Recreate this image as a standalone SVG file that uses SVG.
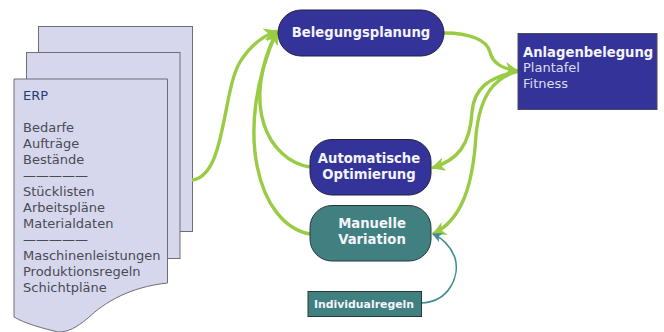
<svg xmlns="http://www.w3.org/2000/svg" width="664" height="332" viewBox="0 0 664 332">
<defs>
<style>
text{font-family:"DejaVu Sans",Verdana,sans-serif}
.page{fill:#d6d7ec;stroke:#6e6e78;stroke-width:1}
.doc{font-size:13px;fill:#4a4a55}
.dark{fill:#333399;stroke:#22223a;stroke-width:1}
.teal{fill:#408080;stroke:#28383a;stroke-width:1}
.lbl{font-size:13.200px;font-weight:bold;fill:#f4f4fa;text-anchor:middle}
.g{fill:none;stroke:#99cc44;stroke-width:3.400}
.b{fill:none;stroke:#408c90;stroke-width:1.600}
</style>
<marker id="ah" viewBox="0 0 14 14" refX="13" refY="7" markerWidth="14" markerHeight="14" markerUnits="userSpaceOnUse" orient="auto"><path d="M0 0L14 7L0 14L4 7Z" fill="#99cc44"/></marker>
<marker id="ahb" viewBox="0 0 10 10" refX="9" refY="5" markerWidth="10" markerHeight="10" markerUnits="userSpaceOnUse" orient="auto"><path d="M0 0L10 5L0 10L3 5Z" fill="#408c90"/></marker>
</defs>
<rect width="664" height="332" fill="#fff"/>
<g id="erp-pages">
<rect class="page" x="38.500" y="26.500" width="154" height="205"/>
<rect class="page" x="26.500" y="52.500" width="153.500" height="206"/>
<path class="page" d="M14 79H167.500V283C130 287 105 302 88 318C76 328 68 332 58 332C42 328 26 324 14 317Z"/>
<text class="doc" x="23" y="100" style="fill:#1f3f78">ERP</text>
<text class="doc" x="23" y="132">Bedarfe</text>
<text class="doc" x="23" y="148">Aufträge</text>
<text class="doc" x="23" y="164">Bestände</text>
<text class="doc" x="23" y="180">—————</text>
<text class="doc" x="23" y="196">Stücklisten</text>
<text class="doc" x="23" y="212">Arbeitspläne</text>
<text class="doc" x="23" y="228">Materialdaten</text>
<text class="doc" x="23" y="244">—————</text>
<text class="doc" x="23" y="260">Maschinenleistungen</text>
<text class="doc" x="23" y="276">Produktionsregeln</text>
<text class="doc" x="23" y="292">Schichtpläne</text>
</g>
<g id="connectors">
<path class="g" marker-end="url(#ah)" d="M192 180C226 176 222 92 240 62C250 46 262 36 277 31"/>
<path class="g" marker-end="url(#ah)" d="M310 167C268 160 240 105 277 31"/>
<path class="g" marker-end="url(#ah)" d="M310 234C258 225 232 130 277 31"/>
<path class="g" marker-end="url(#ah)" d="M444 33C470 33 487 40 490 52C493 65 505 69 518 71"/>
<path class="g" marker-end="url(#ah)" d="M518 71C488 78 474 88 472 112C470 145 458 160 432 168"/>
<path class="g" marker-end="url(#ah)" d="M518 71C494 78 480 95 476 135C473 185 462 220 433 234"/>
<path class="b" marker-end="url(#ahb)" d="M421 303C450 302 460 275 455 258C451 247 444 239 433 234"/>
</g>
<g id="belegungsplanung">
<rect class="dark" x="278" y="10" width="166" height="46" rx="23"/>
<text class="lbl" x="361" y="37">Belegungsplanung</text>
</g>
<g id="automatische-optimierung">
<rect class="dark" x="310" y="139.500" width="121" height="55.500" rx="22"/>
<text class="lbl" x="369" y="163">Automatische</text>
<text class="lbl" x="369" y="179">Optimierung</text>
</g>
<g id="manuelle-variation">
<rect class="teal" x="310" y="205.500" width="121" height="55.500" rx="22"/>
<text class="lbl" x="372" y="228">Manuelle</text>
<text class="lbl" x="372" y="244">Variation</text>
</g>
<g id="individualregeln">
<rect class="teal" x="308" y="291.500" width="113.500" height="25"/>
<text class="lbl" x="364" y="307.500" style="font-size:10.900px">Individualregeln</text>
</g>
<g id="anlagenbelegung">
<rect x="518" y="33.500" width="139" height="76" fill="#333399" stroke="#4a4a60"/>
<text x="523" y="56.500" style="font-size:13.200px;font-weight:bold;fill:#f4f4fa">Anlagenbelegung</text>
<text x="523" y="72" style="font-size:13px;fill:#dcdcf0">Plantafel</text>
<text x="523" y="88" style="font-size:13px;fill:#dcdcf0">Fitness</text>
</g>
</svg>
